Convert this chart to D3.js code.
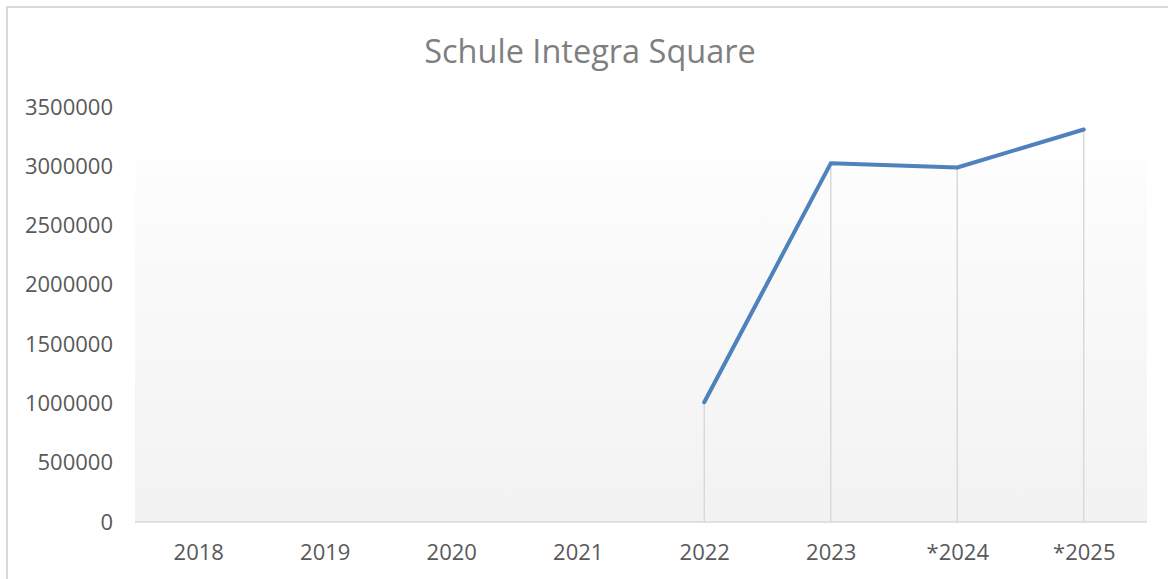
<!DOCTYPE html>
<html>
<head>
<meta charset="utf-8">
<script src="https://cdn.jsdelivr.net/npm/d3@7"></script>
<style>
  html, body { margin: 0; padding: 0; background: #fff; }
  svg { display: block; }
</style>
</head>
<body>
<svg id="chart" width="1168" height="579"></svg>
<script>
// Chart content
const chartTitle = "Schule Integra Square";
const categories = ["2018", "2019", "2020", "2021", "2022", "2023", "*2024", "*2025"];
const values = [null, null, null, null, 1010000, 3025000, 2990000, 3310000];
const yTicks = [0, 500000, 1000000, 1500000, 2000000, 2500000, 3000000, 3500000];

const width = 1168, height = 579;
const plot = { left: 135, right: 1147, top: 107, bottom: 522 };
const fillTop = 160; // top edge of the shaded plot background
const font = "'Open Sans', 'Noto Sans', sans-serif";

const svg = d3.select("#chart");

// Gradient fill for the plot area
const defs = svg.append("defs");
const grad = defs.append("linearGradient")
  .attr("id", "plotFill").attr("x1", 0).attr("y1", 0).attr("x2", 0).attr("y2", 1);
grad.append("stop").attr("offset", "0%").attr("stop-color", "#fdfdfd");
grad.append("stop").attr("offset", "100%").attr("stop-color", "#f2f2f2");

// Outer chart frame
svg.append("rect")
  .attr("x", 7).attr("y", 7)
  .attr("width", width + 10).attr("height", height + 10)
  .attr("fill", "#fff")
  .attr("stroke", "#d9d9d9").attr("stroke-width", 2);

const x = d3.scalePoint()
  .domain(categories)
  .range([plot.left, plot.right])
  .padding(0.5);

const y = d3.scaleLinear()
  .domain([0, 3500000])
  .range([plot.bottom, plot.top]);

// Plot area background
svg.append("rect")
  .attr("x", plot.left).attr("y", fillTop)
  .attr("width", plot.right - plot.left)
  .attr("height", y(0) - fillTop)
  .attr("fill", "url(#plotFill)");

// Y axis labels (no line, no ticks)
const yAxis = d3.axisLeft(y).tickValues(yTicks).tickFormat(d3.format("d")).tickSize(0).tickPadding(0);
const gy = svg.append("g").attr("transform", `translate(113,0)`).call(yAxis);
gy.select(".domain").remove();
gy.selectAll("text")
  .attr("fill", "#595959")
  .style("font-family", font)
  .style("font-size", "22px");

// X axis labels
const xAxis = d3.axisBottom(x).tickSize(0).tickPadding(0);
const gx = svg.append("g").attr("transform", `translate(0,${plot.bottom})`).call(xAxis);
gx.select(".domain").remove();
gx.selectAll("text")
  .attr("y", 0)
  .attr("dy", "38px")
  .attr("fill", "#595959")
  .style("font-family", font)
  .style("font-size", "22px");

const defined = categories.map((c, i) => ({ c, v: values[i] })).filter(d => d.v != null);

// Drop lines from each point to the axis
svg.append("g").selectAll("line")
  .data(defined)
  .join("line")
  .attr("x1", d => x(d.c)).attr("x2", d => x(d.c))
  .attr("y1", d => y(d.v)).attr("y2", y(0))
  .attr("stroke", "#d9d9d9").attr("stroke-width", 1.5);

// Category axis line
svg.append("line")
  .attr("x1", plot.left).attr("x2", plot.right)
  .attr("y1", y(0)).attr("y2", y(0))
  .attr("stroke", "#d9d9d9").attr("stroke-width", 1.5);

// Series line
const line = d3.line()
  .defined(d => d.v != null)
  .x(d => x(d.c))
  .y(d => y(d.v));

svg.append("path")
  .datum(categories.map((c, i) => ({ c, v: values[i] })))
  .attr("d", line)
  .attr("fill", "none")
  .attr("stroke", "#4f81bd")
  .attr("stroke-width", 4)
  .attr("stroke-linecap", "round")
  .attr("stroke-linejoin", "round");

// Title
svg.append("text")
  .attr("x", 590).attr("y", 63)
  .attr("text-anchor", "middle")
  .attr("fill", "#7f7f7f")
  .style("font-family", font)
  .style("font-size", "32.5px")
  .text(chartTitle);
</script>
</body>
</html>
